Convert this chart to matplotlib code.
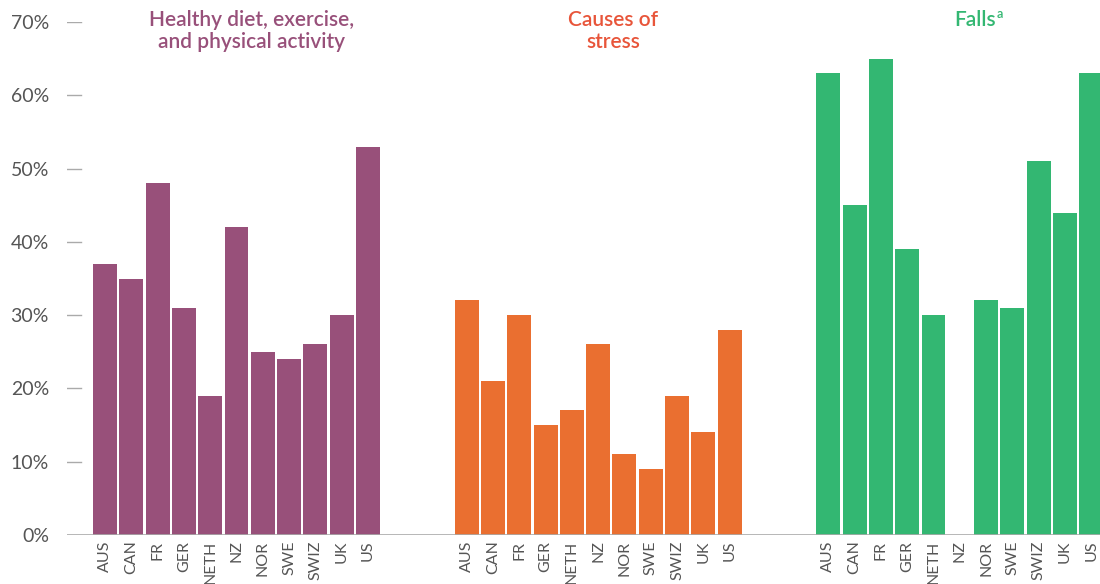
import numpy as np
import matplotlib
matplotlib.use("Agg")
from matplotlib import pyplot as plt

plt.rcParams['font.family'] = ['Lato', 'DejaVu Sans']

countries = ['AUS', 'CAN', 'FR', 'GER', 'NETH', 'NZ', 'NOR', 'SWE', 'SWIZ', 'UK', 'US']
diet = [37, 35, 48, 31, 19, 42, 25, 24, 26, 30, 53]
stress = [32, 21, 30, 15, 17, 26, 11, 9, 19, 14, 28]
falls = [63, 45, 65, 39, 30, np.nan, 32, 31, 51, 44, 63]  # no NZ value
titles = ['Healthy diet, exercise,\nand physical activity', 'Causes of\nstress', 'Falls']
bar_colors = ['#98507a', '#ea6f30', '#33b772']
title_colors = ['#98507a', '#e8553a', '#33b772']
yticks = [0, 10, 20, 30, 40, 50, 60, 70]

fig = plt.figure(figsize=(11, 5.84), dpi=100)
ax = fig.add_axes([67 / 1100, 49 / 584, 1033 / 1100, 513 / 584])

group_step = 13.75
idx = np.arange(len(countries))
xs_all = []
labels_all = []
for g, vals in enumerate([diet, stress, falls]):
    xs = idx + g * group_step
    ax.bar(xs, vals, width=0.91, color=bar_colors[g], zorder=2)
    xs_all += list(xs)
    labels_all += countries
    t = ax.text(g * group_step + 5.57, 71.6, titles[g], ha='center', va='top',
                fontsize=15, fontweight='semibold', color=title_colors[g], linespacing=1.1,
                clip_on=False)
    if g == 2:
        ax.annotate('a', xy=(1, 1), xycoords=t, xytext=(0.5, 1.5), textcoords='offset points',
                    ha='left', va='top', fontsize=9, fontweight='semibold',
                    color=title_colors[g])

ax.set_xlim(-1.445, 37.83)
ax.set_ylim(0, 70)

for s in ax.spines.values():
    s.set_visible(False)
ax.axhline(0, color='#aaaaaa', lw=1.2, zorder=3)
for y in yticks[1:]:
    ax.axhline(y, xmin=0, xmax=14 / 1033, color='#aaaaaa', lw=1.0)

ax.set_yticks(yticks)
ax.set_yticklabels([f'{v}%' for v in yticks])
ax.tick_params(axis='y', length=0, pad=13, labelsize=14, labelcolor='#555555')
ax.set_xticks(xs_all)
ax.set_xticklabels(labels_all, rotation=90)
ax.tick_params(axis='x', length=0, pad=4, labelsize=11.5, labelcolor='#555555')

fig.savefig('out.png', dpi=100)
